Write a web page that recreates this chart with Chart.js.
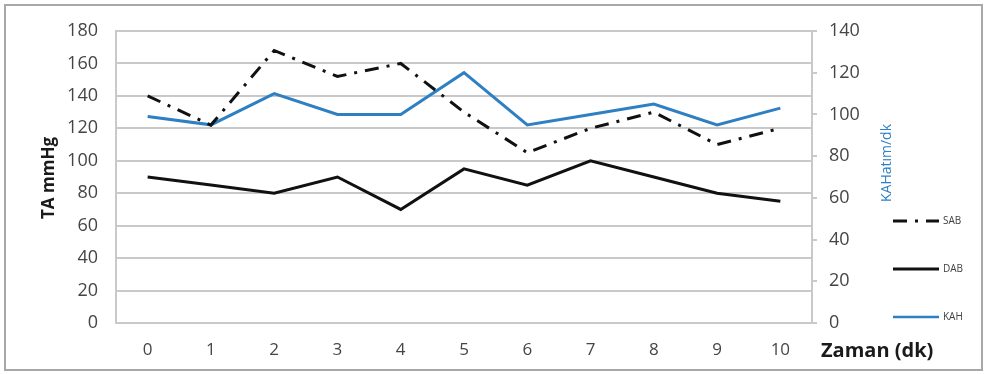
<!DOCTYPE html>
<html>
<head>
<meta charset="utf-8">
<script src="https://cdn.jsdelivr.net/npm/chart.js@4"></script>
<style>
  html, body { margin: 0; padding: 0; background: #ffffff; }
  #wrap { width: 987px; height: 374px; position: relative; }
</style>
</head>
<body>
<div id="wrap"><canvas id="c" width="987" height="374"></canvas></div>
<script>
// Time points (minutes)
const minutes = ['0', '1', '2', '3', '4', '5', '6', '7', '8', '9', '10'];
// Systolic pressure, mmHg (left axis)
const sab = [140, 122, 168, 152, 160, 130, 105, 120, 130, 110, 120];
// Diastolic pressure, mmHg (left axis)
const dab = [90, 85, 80, 90, 70, 95, 85, 100, 90, 80, 75];
// Heart rate, beats/min (right axis)
const kah = [99, 95, 110, 100, 100, 120, 95, 100, 105, 95, 103];
// Axis ranges and tick steps
const leftTicks = { min: 0, max: 180, step: 20 };
const rightTicks = { min: 0, max: 140, step: 20 };

const FONT = '"Open Sans", Lato, sans-serif';
const GRID = '#c9c9c9';
const BLUE = '#2f7fc3';
const TICK_COLOR = '#454545';
const SAB_DASH = [14, 8, 3, 8];

// Frame, axis titles and the side legend
const decorations = {
  id: 'decorations',
  afterDraw(chart) {
    const ctx = chart.ctx;
    ctx.save();
    // outer frame
    ctx.strokeStyle = '#a8a8a8';
    ctx.lineWidth = 2;
    ctx.strokeRect(5, 5, 977, 365);

    // left axis title
    ctx.fillStyle = '#1a1a1a';
    ctx.font = 'bold 17px ' + FONT;
    ctx.textAlign = 'center';
    ctx.textBaseline = 'middle';
    ctx.save();
    ctx.translate(49, 178);
    ctx.rotate(-Math.PI / 2);
    ctx.fillText('TA mmHg', 0, 0);
    ctx.restore();

    // right axis title
    ctx.fillStyle = BLUE;
    ctx.font = '14px ' + FONT;
    ctx.save();
    ctx.translate(887, 163);
    ctx.rotate(-Math.PI / 2);
    ctx.fillText('KAHatım/dk', 0, 0);
    ctx.restore();

    // x axis title
    ctx.fillStyle = '#1a1a1a';
    ctx.font = 'bold 20px ' + FONT;
    ctx.textAlign = 'left';
    ctx.fillText('Zaman (dk)', 821, 351);

    // legend
    const items = [
      { label: 'SAB', color: '#111111', width: 3, dash: SAB_DASH, y: 221 },
      { label: 'DAB', color: '#111111', width: 3, dash: [], y: 269 },
      { label: 'KAH', color: BLUE, width: 2.5, dash: [], y: 317 }
    ];
    items.forEach(it => {
      ctx.beginPath();
      ctx.setLineDash(it.dash);
      ctx.strokeStyle = it.color;
      ctx.lineWidth = it.width;
      ctx.moveTo(893, it.y);
      ctx.lineTo(939, it.y);
      ctx.stroke();
      ctx.setLineDash([]);
      ctx.fillStyle = '#404040';
      ctx.font = '10px ' + FONT;
      ctx.textAlign = 'left';
      ctx.fillText(it.label, 943, it.y);
    });
    ctx.restore();
  }
};

new Chart(document.getElementById('c'), {
  type: 'line',
  data: {
    labels: minutes,
    datasets: [
      { label: 'SAB', data: sab, yAxisID: 'y', borderColor: '#111111', borderWidth: 3,
        borderDash: SAB_DASH, pointRadius: 0, tension: 0, fill: false },
      { label: 'DAB', data: dab, yAxisID: 'y', borderColor: '#111111', borderWidth: 3,
        pointRadius: 0, tension: 0, fill: false },
      { label: 'KAH', data: kah, yAxisID: 'y1', borderColor: BLUE, borderWidth: 3,
        pointRadius: 0, tension: 0, fill: false }
    ]
  },
  options: {
    responsive: false,
    animation: false,
    devicePixelRatio: 1,
    layout: { padding: { top: 31, left: 0, right: 0, bottom: 0 } },
    plugins: { legend: { display: false }, tooltip: { enabled: false } },
    scales: {
      x: {
        offset: true,
        grid: { display: false, drawTicks: false },
        border: { display: false },
        ticks: { color: TICK_COLOR, font: { family: FONT, size: 17 }, padding: 17, maxRotation: 0 },
        afterFit(s) { s.height = 51; }
      },
      y: {
        position: 'left',
        min: leftTicks.min, max: leftTicks.max,
        ticks: { stepSize: leftTicks.step, color: TICK_COLOR, font: { family: FONT, size: 18 }, padding: 18 },
        grid: { color: GRID, lineWidth: 2, drawTicks: false },
        border: { display: true, color: GRID, width: 2 },
        afterFit(s) { s.width = 116; }
      },
      y1: {
        position: 'right',
        min: rightTicks.min, max: rightTicks.max,
        ticks: { stepSize: rightTicks.step, color: TICK_COLOR, font: { family: FONT, size: 18 }, padding: 12 },
        grid: { drawOnChartArea: false, color: GRID, lineWidth: 2, tickLength: 5 },
        border: { display: true, color: GRID, width: 2 },
        afterFit(s) { s.width = 175; }
      }
    }
  },
  plugins: [decorations]
});
</script>
</body>
</html>
